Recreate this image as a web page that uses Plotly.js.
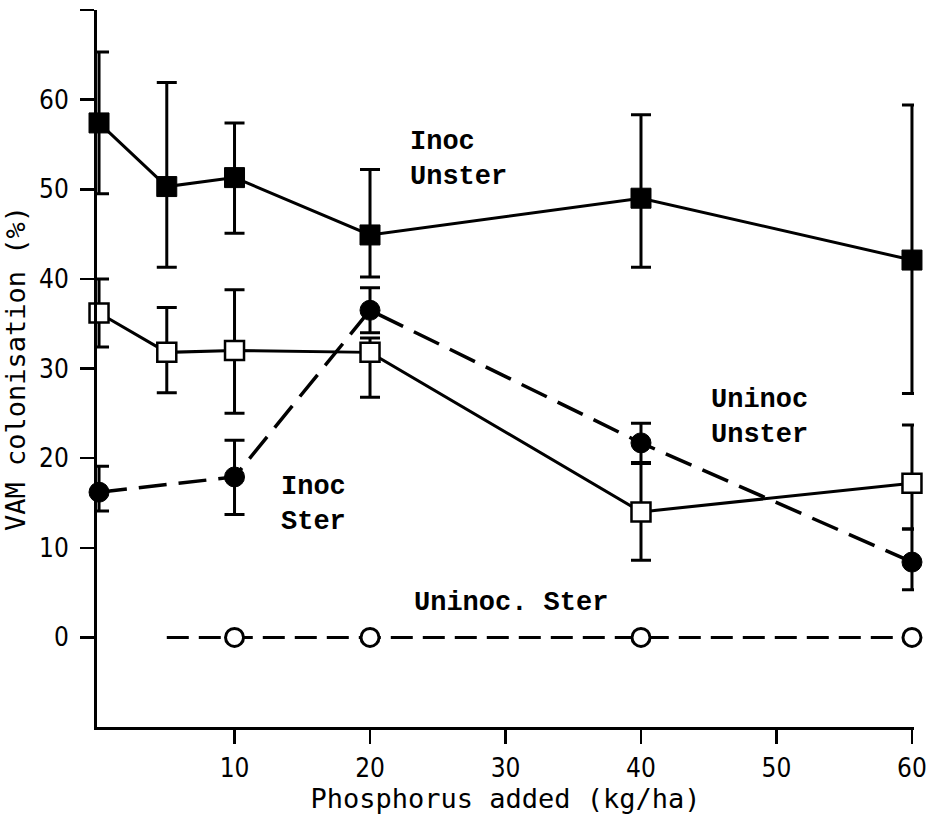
<!DOCTYPE html>
<html>
<head>
<meta charset="utf-8">
<script src="https://cdn.plot.ly/plotly-3.0.1.min.js"></script>
<style>html,body{margin:0;padding:0;background:#fff;}#chart{width:931px;height:820px;}</style>
</head>
<body>
<div id="chart"></div>
<script>
// Phosphorus added (kg/ha)
var xInocUnster = [0, 5, 10, 20, 40, 60];
var yInocUnster = [57.4, 50.3, 51.3, 44.9, 49.0, 42.1];
var eInocUnsterPlus = [7.9, 11.6, 6.1, 7.3, 9.3, 17.3];
var eInocUnsterMinus = [7.9, 9.0, 6.2, 4.7, 7.7, 14.9];

var xUninocUnster = [0, 5, 10, 20, 40, 60];
var yUninocUnster = [36.2, 31.8, 32.0, 31.8, 14.0, 17.2];
var eUninocUnsterPlus = [3.8, 5.0, 6.8, 1.6, 5.4, 6.5];
var eUninocUnsterMinus = [3.8, 4.5, 7.0, 5.0, 5.4, 5.1];

var xInocSter = [0, 10, 20, 40, 60];
var yInocSter = [16.2, 17.9, 36.5, 21.7, 8.4];
var eInocSterPlus = [2.9, 4.1, 2.5, 2.2, 3.7];
var eInocSterMinus = [2.1, 4.2, 2.5, 2.2, 3.1];

var xUninocSter = [5, 10, 20, 40, 60];
var yUninocSter = [0, 0, 0, 0, 0];
var showUninocSterMarker = [false, true, true, true, true];

var xTickVals = [10, 20, 30, 40, 50, 60];
var xTickText = ["10", "20", "30", "40", "50", "60"];
var yTickVals = [0, 10, 20, 30, 40, 50, 60, 70];
var yTickText = ["0", "10", "20", "30", "40", "50", "60", ""];

var labelTexts = ["Inoc<br>Unster", "Uninoc<br>Unster", "Inoc<br>Ster", "Uninoc. Ster"];
var labelX = [22.8, 45.0, 13.3, 23.1];
var labelY = [53.3, 24.5, 14.8, 3.8];

var ink = "#000000";
var tickFont = {family: "Liberation Sans Narrow, DejaVu Sans Condensed, Liberation Sans, Arial, sans-serif", size: 26, color: ink};
var titleFont = {family: "DejaVu Sans Mono, Liberation Mono, monospace", size: 27, color: ink};
var labelFont = {family: "Liberation Mono, Courier New, monospace", size: 27, color: ink};

function errs(plus, minus) {
  return {type: "data", symmetric: false, array: plus, arrayminus: minus,
          color: ink, thickness: 3, width: 10, visible: true};
}

var traces = [
  {
    x: xUninocSter, y: yUninocSter, type: "scatter", mode: "lines+markers",
    line: {color: ink, width: 3, dash: "22px,10px"},
    marker: {symbol: "circle", size: showUninocSterMarker.map(function(s){return s ? 18 : 0;}),
             color: "#ffffff", opacity: 1, line: {color: ink, width: 3}},
    cliponaxis: false
  },
  {
    x: xInocSter, y: yInocSter, type: "scatter", mode: "lines+markers",
    line: {color: ink, width: 3.5, dash: "28px,12px"},
    marker: {symbol: "circle", size: 20, color: ink, line: {color: ink, width: 1}},
    error_y: errs(eInocSterPlus, eInocSterMinus),
    cliponaxis: false
  },
  {
    x: xUninocUnster, y: yUninocUnster, type: "scatter", mode: "lines+markers",
    line: {color: ink, width: 3},
    marker: {symbol: "square", size: 19, color: "#ffffff", line: {color: ink, width: 2.5}},
    error_y: errs(eUninocUnsterPlus, eUninocUnsterMinus),
    cliponaxis: false
  },
  {
    x: xInocUnster, y: yInocUnster, type: "scatter", mode: "lines+markers",
    line: {color: ink, width: 3},
    marker: {symbol: "square", size: 20, color: ink, line: {color: ink, width: 1}},
    error_y: errs(eInocUnsterPlus, eInocUnsterMinus),
    cliponaxis: false
  }
];

var annotations = labelTexts.map(function(t, i) {
  return {x: labelX[i], y: labelY[i], xref: "x", yref: "y", text: "<b>" + t + "</b>",
          showarrow: false, xanchor: "left", yanchor: "middle", align: "left",
          font: labelFont};
});

var layout = {
  width: 931, height: 820,
  margin: {l: 97, r: 17, t: 10, b: 93, pad: 0},
  paper_bgcolor: "#ffffff", plot_bgcolor: "#ffffff",
  showlegend: false,
  xaxis: {
    range: [-0.15, 60.15], showgrid: false, zeroline: false,
    showline: true, linecolor: ink, linewidth: 3,
    ticks: "outside", ticklen: 14, tickwidth: 2.5, tickcolor: ink,
    tickvals: xTickVals, ticktext: xTickText, tickfont: tickFont,
    ticklabelstandoff: 2, ticklabeloverflow: "allow",
    title: {text: "Phosphorus added (kg/ha)", font: titleFont, standoff: 6}
  },
  yaxis: {
    range: [-10, 70], showgrid: false, zeroline: false,
    showline: true, linecolor: ink, linewidth: 3,
    ticks: "outside", ticklen: 14, tickwidth: 2.5, tickcolor: ink,
    tickvals: yTickVals, ticktext: yTickText, tickfont: tickFont,
    ticklabelstandoff: 6,
    title: {text: "VAM colonisation (%)", font: titleFont, standoff: 10}
  },
  annotations: annotations
};

Plotly.newPlot("chart", traces, layout, {displayModeBar: false, staticPlot: true});
</script>
</body>
</html>
